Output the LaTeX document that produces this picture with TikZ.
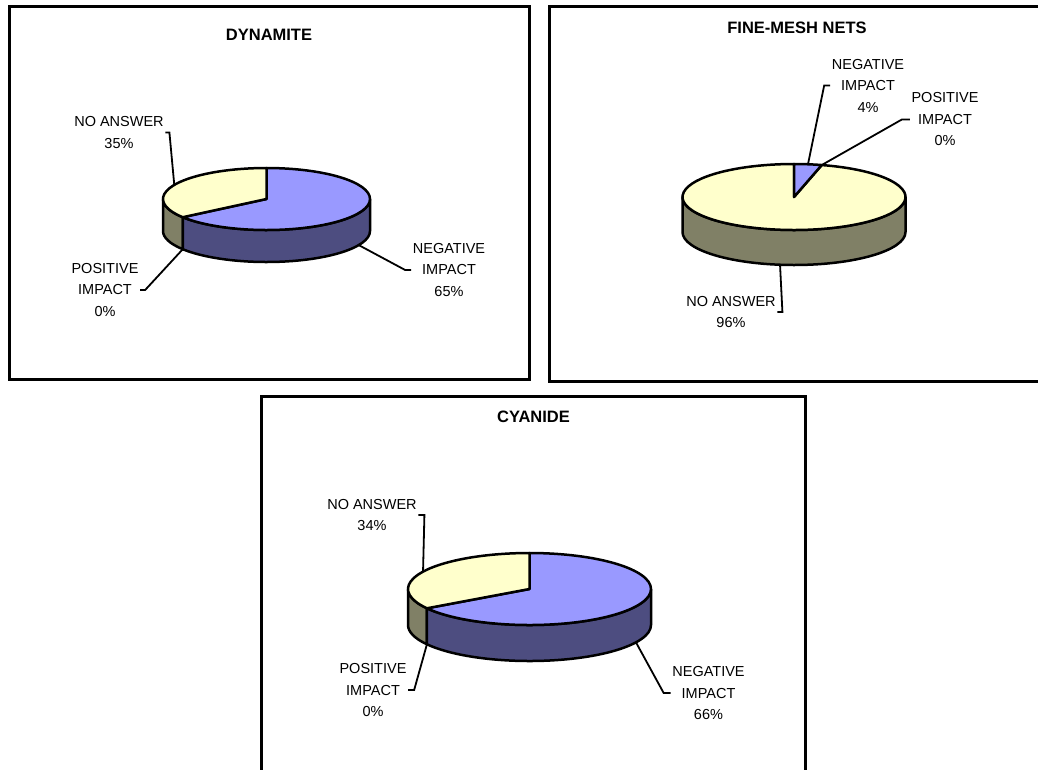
\documentclass[tikz,border=0pt]{standalone}
\usepackage{fontspec}
\setmainfont{Liberation Sans}
\usetikzlibrary{calc}
\definecolor{pieblue}{RGB}{153,153,255}
\definecolor{piebluedark}{RGB}{77,77,128}
\definecolor{pieyellow}{RGB}{255,255,204}
\definecolor{pieyellowdark}{RGB}{128,128,102}

\begin{document}
\begin{tikzpicture}[x=1pt, y=1pt,
    frame/.style={draw, line width=3pt},
    charttitle/.style={font=\fontsize{16.5}{19}\selectfont\bfseries},
    slicelabel/.style={align=center, inner sep=1.5pt, font=\fontsize{14.5}{21.5}\selectfont},
    face/.style={draw, line width=2.5pt, line join=round},
    leader/.style={line width=1.8pt}]
    \useasboundingbox (0,0) rectangle (1038,-769);
    \fill[white] (0,0) rectangle (1038,-769);

    % Chart frames
    \draw[frame] (9.5,-6.5) rectangle (529,-379);
    \draw[frame] (549.5,-6.5) rectangle (1046,-381);
    \draw[frame] (261,-396) rectangle (805,-790);

    % Dynamite: 65% negative, 0% positive, 35% no answer
    \begin{scope}[shift={(266.5,-199)}, x radius=103.5, y radius=31]
        \draw[face, fill=pieyellowdark] (180:103.5 and 31) arc[start angle=180, end angle=216]
            -- ++(0,-32) arc[start angle=216, end angle=180] -- cycle;
        \draw[face, fill=piebluedark] (216:103.5 and 31) arc[start angle=216, end angle=360]
            -- ++(0,-32) arc[start angle=360, end angle=216] -- cycle;
        \draw[face, fill=pieblue] (0,0) -- (90:103.5 and 31) arc[start angle=90, end angle=-144] -- cycle;
        \draw[face, fill=pieyellow] (0,0) -- (216:103.5 and 31) arc[start angle=216, end angle=90] -- cycle;
        \coordinate (dyn-na) at (153:103.5 and 31);
        \coordinate (dyn-pos) at ($(216:103.5 and 31)+(0,-32)$);
        \coordinate (dyn-neg) at ($(-27:103.5 and 31)+(0,-32)$);
    \end{scope}
    \node[charttitle] (dyntitle) at (269,-35) {DYNAMITE};
    \node[slicelabel] (dynna) at (119,-132.5) {NO ANSWER\\35\%};
    \node[slicelabel] (dynpos) at (105,-290) {POSITIVE\\IMPACT\\0\%};
    \node[slicelabel] (dynneg) at (449,-270) {NEGATIVE\\IMPACT\\65\%};
    \draw[leader] (dynna.east) -- ++(4,0) -- (dyn-na);
    \draw[leader] (dynpos.east) -- ++(5,0) -- (dyn-pos);
    \draw[leader] (dynneg.west) -- ++(-6,0) -- (dyn-neg);

    % Fine-mesh nets: 4% negative, 0% positive, 96% no answer
    \begin{scope}[shift={(794,-197)}, x radius=111.5, y radius=33]
        \draw[face, fill=pieyellowdark] (180:111.5 and 33) arc[start angle=180, end angle=360]
            -- ++(0,-35) arc[start angle=360, end angle=180] -- cycle;
        \draw[face, fill=pieyellow] (0,0) -- (75.6:111.5 and 33) arc[start angle=75.6, end angle=-270] -- cycle;
        \draw[face, fill=pieblue] (0,0) -- (90:111.5 and 33) arc[start angle=90, end angle=75.6] -- cycle;
        \coordinate (net-neg) at (82.8:111.5 and 33);
        \coordinate (net-pos) at (75.6:111.5 and 33);
        \coordinate (net-na) at ($(-97.2:111.5 and 33)+(0,-35)$);
    \end{scope}
    \node[charttitle] (nettitle) at (797,-28) {FINE-MESH NETS};
    \node[slicelabel] (netneg) at (868,-85.5) {NEGATIVE\\IMPACT\\4\%};
    \node[slicelabel] (netpos) at (945,-119.5) {POSITIVE\\IMPACT\\0\%};
    \node[slicelabel] (netna) at (731,-312) {NO ANSWER\\96\%};
    \draw[leader] (netneg.west) -- ++(-6,0) -- (net-neg);
    \draw[leader] (netpos.west) -- ++(-8,0) -- (net-pos);
    \draw[leader] (netna.east) -- ++(5,0) -- (net-na);

    % Cyanide: 66% negative, 0% positive, 34% no answer
    \begin{scope}[shift={(529.5,-589)}, x radius=121.5, y radius=36]
        \draw[face, fill=pieyellowdark] (180:121.5 and 36) arc[start angle=180, end angle=212.4]
            -- ++(0,-36) arc[start angle=212.4, end angle=180] -- cycle;
        \draw[face, fill=piebluedark] (212.4:121.5 and 36) arc[start angle=212.4, end angle=360]
            -- ++(0,-36) arc[start angle=360, end angle=212.4] -- cycle;
        \draw[face, fill=pieblue] (0,0) -- (90:121.5 and 36) arc[start angle=90, end angle=-147.6] -- cycle;
        \draw[face, fill=pieyellow] (0,0) -- (212.4:121.5 and 36) arc[start angle=212.4, end angle=90] -- cycle;
        \coordinate (cya-na) at (151.2:121.5 and 36);
        \coordinate (cya-pos) at ($(212.4:121.5 and 36)+(0,-36)$);
        \coordinate (cya-neg) at ($(-28.8:121.5 and 36)+(0,-36)$);
    \end{scope}
    \node[charttitle] (cyatitle) at (533.5,-417) {CYANIDE};
    \node[slicelabel] (cyana) at (372,-515) {NO ANSWER\\34\%};
    \node[slicelabel] (cyapos) at (373,-690) {POSITIVE\\IMPACT\\0\%};
    \node[slicelabel] (cyaneg) at (708.5,-693) {NEGATIVE\\IMPACT\\66\%};
    \draw[leader] (cyana.east) -- ++(6,0) -- (cya-na);
    \draw[leader] (cyapos.east) -- ++(6,0) -- (cya-pos);
    \draw[leader] (cyaneg.west) -- ++(-7,0) -- (cya-neg);
\end{tikzpicture}
\end{document}
